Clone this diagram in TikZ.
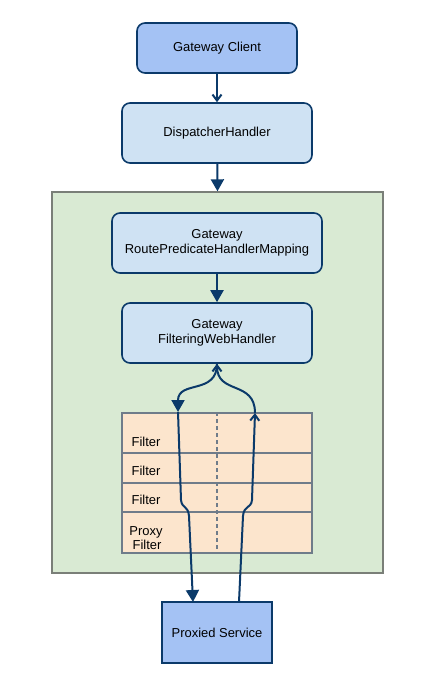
\documentclass[tikz,border=0pt]{standalone}
\usepackage{fontspec}
\setmainfont{Liberation Sans}
\usetikzlibrary{arrows.meta}

\definecolor{clientblue}{HTML}{A4C2F4}
\definecolor{handlerblue}{HTML}{CFE2F3}
\definecolor{chaingreen}{HTML}{D9EAD3}
\definecolor{filterpeach}{HTML}{FCE5CD}
\definecolor{linenavy}{HTML}{0B3A6A}
\definecolor{rulegray}{HTML}{6F7C8A}
\definecolor{framegray}{HTML}{7A7F78}

\begin{document}
\begin{tikzpicture}[x=1bp, y=-1bp,
    font=\fontsize{13}{15}\selectfont,
    box/.style={draw=linenavy, line width=1.6bp, rounded corners=8bp, align=center, inner sep=0pt},
    flow/.style={draw=linenavy, line width=2bp},
    bigtip/.style={-{Triangle[width=13bp,length=12bp]}},
    thintip/.style={-{Straight Barb[width=9bp,length=6bp]}}]
\useasboundingbox (0,0) rectangle (438,689);

% outer frame and filter table
\node[draw=framegray, fill=chaingreen, line width=1.4bp, minimum width=331bp, minimum height=381bp, inner sep=0pt] (chain) at (217.5,382.5) {};
\node[draw=rulegray, fill=filterpeach, line width=1.4bp, minimum width=190bp, minimum height=140bp, inner sep=0pt] (table) at (217,483) {};
\draw[rulegray, line width=1.4bp] (122,453) -- (312,453);
\draw[rulegray, line width=1.4bp] (122,483) -- (312,483);
\draw[rulegray, line width=1.4bp] (122,512) -- (312,512);
\draw[rulegray, line width=1.4bp, dash pattern=on 4bp off 3bp] (table.north) -- (table.south);

\node[inner sep=0pt] (filterA) at (146,442) {Filter};
\node[inner sep=0pt] (filterB) at (146,471) {Filter};
\node[inner sep=0pt] (filterC) at (146,500) {Filter};
\node[inner sep=0pt, align=center, font=\fontsize{13}{14}\selectfont] (proxyfilter) at (146,538) {Proxy\\ \,Filter};

% boxes
\node[box, fill=clientblue, minimum width=160bp, minimum height=50bp] (client) at (217,48) {Gateway Client};
\node[box, fill=handlerblue, minimum width=190bp, minimum height=60bp] (dispatcher) at (217,133) {DispatcherHandler};
\node[box, fill=handlerblue, minimum width=210bp, minimum height=60bp] (mapping) at (217,243) {Gateway\\RoutePredicateHandlerMapping};
\node[box, fill=handlerblue, minimum width=190bp, minimum height=60bp] (webhandler) at (217,333) {Gateway\\FilteringWebHandler};
\node[box, rounded corners=0pt, fill=clientblue, minimum width=110bp, minimum height=61bp] (service) at (217,632.5) {Proxied Service};

% connectors
\coordinate (downtop) at (178,412);
\coordinate (downend) at (193,602);
\coordinate (upstart) at (239,602);
\coordinate (uptop) at (255,413);

\draw[flow, thintip] (client) -- (dispatcher);
\draw[flow, bigtip] (dispatcher) -- (chain.north);
\draw[flow, bigtip] (mapping) -- (webhandler);
\draw[flow, bigtip] (webhandler.south) .. controls (217,395) and (178,380) .. (downtop);
\draw[flow, bigtip] (downtop) -- (181,500) .. controls (182,509) and (188,505) .. (189,516) -- (downend);
\draw[flow, thintip] (upstart) -- (243,516) .. controls (244,505) and (251,509) .. (252,500) -- (uptop);
\draw[flow, thintip] (uptop) .. controls (255,380) and (217,395) .. (webhandler.south);
\end{tikzpicture}
\end{document}
